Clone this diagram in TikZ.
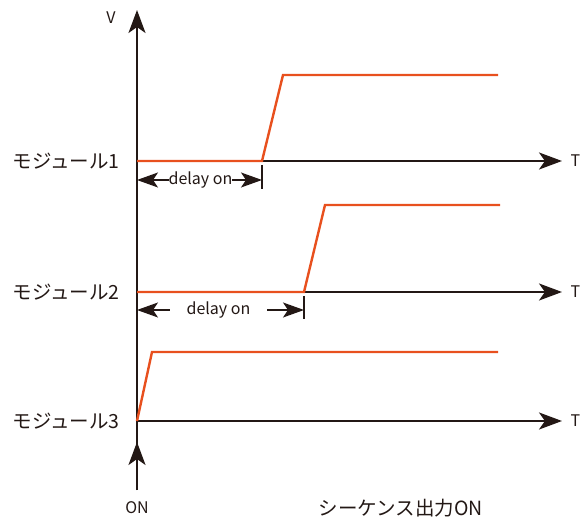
\documentclass[tikz,border=0pt]{standalone}
\usepackage{fontspec}
\setmainfont{Noto Sans CJK JP}
\definecolor{sigOrange}{HTML}{E8501E}
\definecolor{axBlack}{HTML}{231815}
\usetikzlibrary{arrows.meta}

\begin{document}
\begin{tikzpicture}[x=1pt, y=-1pt,
  axis/.style={axBlack, line width=2.4pt, -{Stealth[length=23pt, width=17pt, inset=6pt]}},
  sig/.style={sigOrange, line width=2.4pt, line join=miter},
  dimline/.style={axBlack, line width=1.3pt, {Stealth[length=21pt, width=15pt, inset=5pt]}-{Stealth[length=21pt, width=15pt, inset=5pt]}},
  lbl/.style={font=\fontsize{19.5}{20}\selectfont, text=axBlack},
  small/.style={font=\fontsize{16}{16}\selectfont, text=axBlack}]
  \useasboundingbox (0,0) rectangle (583,518);

  % vertical axis
  \coordinate (bot) at (137,490);
  \coordinate (top) at (137,10);
  \coordinate (on) at (137,442);
  \draw[axis] (bot) -- (top);
  \draw[axis] (bot) -- (on);
  \node[small, anchor=east] (V) at (119,18) {V};
  \node[small] (ON) at (137,508) {ON};
  \node[lbl] (seq) at (401,508) {シーケンス出力ON};

  % time axes
  \foreach \i/\y in {1/161, 2/292, 3/421} {
    \coordinate (o\i) at (137,\y);
    \coordinate (t\i) at (562,\y);
    \draw[axis] (o\i) -- (t\i);
    \node[small, anchor=west] (T\i) at (567,\y) {T};
    \node[lbl, anchor=east] (m\i) at (123,\y) {モジュール\i};
  }

  % module 1
  \coordinate (r1) at (262,161);
  \coordinate (h1) at (283,75);
  \coordinate (e1) at (498,75);
  \draw[sig] (o1) -- (r1) -- (h1) -- (e1);
  \draw[axBlack, line width=1.3pt] (262,165) -- (262,189);
  \coordinate (d1a) at (137,180);
  \coordinate (d1b) at (262,180);
  \draw[dimline] (d1a) -- (d1b) node[midway, small, fill=white, inner xsep=0pt, inner ysep=1pt, xshift=1pt] (dly1) {delay on};

  % module 2
  \coordinate (r2) at (304,292);
  \coordinate (h2) at (325,205);
  \coordinate (e2) at (500,205);
  \draw[sig] (o2) -- (r2) -- (h2) -- (e2);
  \draw[axBlack, line width=1.3pt] (304,296) -- (304,319);
  \coordinate (d2a) at (137,310);
  \coordinate (d2b) at (304,310);
  \draw[dimline] (d2a) -- (d2b) node[midway, small, fill=white, inner xsep=17pt, inner ysep=1pt, xshift=-2pt] (dly2) {delay on};

  % module 3
  \coordinate (h3) at (152,352);
  \coordinate (e3) at (498,352);
  \draw[sig] (o3) -- (h3) -- (e3);
\end{tikzpicture}
\end{document}
